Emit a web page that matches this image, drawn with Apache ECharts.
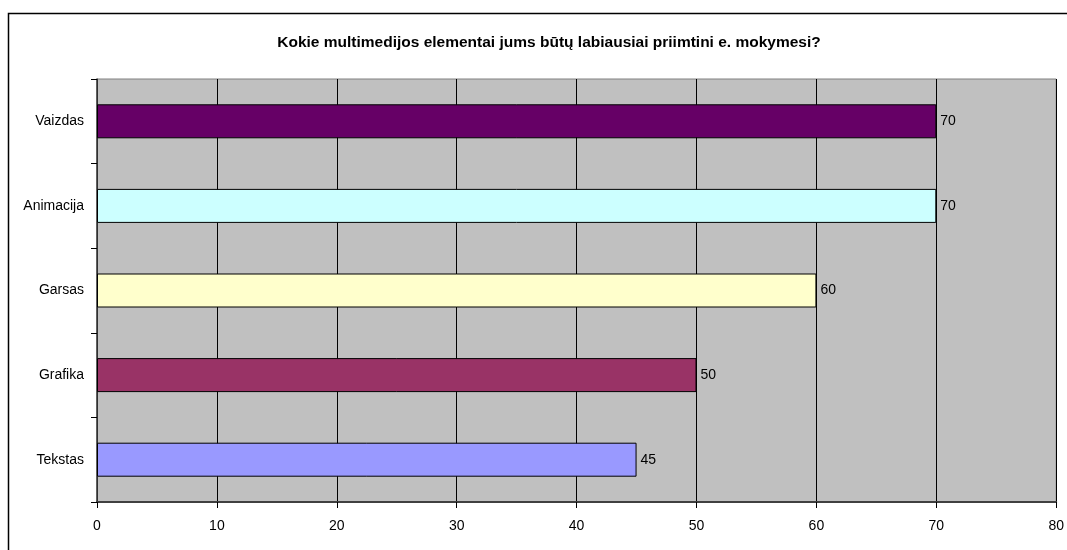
<!DOCTYPE html>
<html>
<head>
<meta charset="utf-8">
<script src="https://cdn.jsdelivr.net/npm/echarts@6/dist/echarts.min.js"></script>
<style>
  html, body { margin: 0; padding: 0; background: #fff; }
  #chart { width: 1067px; height: 550px; }
</style>
</head>
<body>
<div id="chart"></div>
<script>
// Duomenys
const categories = ["Vaizdas", "Animacija", "Garsas", "Grafika", "Tekstas"];
const values = [70, 70, 60, 50, 45];
const barColors = ["#660066", "#CCFFFF", "#FFFFCC", "#993366", "#9999FF"];
const xTicks = [0, 10, 20, 30, 40, 50, 60, 70, 80];

const chart = echarts.init(document.getElementById("chart"));

chart.setOption({
  animation: false,
  textStyle: { fontFamily: "Liberation Sans, Arial, sans-serif" },
  title: {
    text: "Kokie multimedijos elementai jums būtų labiausiai priimtini e. mokymesi?",
    left: 544,
    top: 30,
    textAlign: "center",
    textStyle: { fontSize: 15.5, fontWeight: "bold", color: "#000" },
  },
  graphic: [
    {
      type: "rect",
      shape: { x: 8.5, y: 13.5, width: 1100, height: 600 },
      style: { fill: "none", stroke: "#000", lineWidth: 1.5 },
      silent: true,
    },
  ],
  grid: {
    left: 97,
    right: 10,
    top: 79,
    bottom: 48,
    show: true,
    backgroundColor: "#C0C0C0",
    borderColor: "#808080",
    borderWidth: 1,
  },
  xAxis: {
    type: "value",
    min: xTicks[0],
    max: xTicks[xTicks.length - 1],
    interval: 10,
    axisLine: { show: true, lineStyle: { color: "#404040", width: 2 } },
    axisTick: { show: true, length: 6, lineStyle: { color: "#000" } },
    axisLabel: { color: "#000", fontSize: 14, margin: 17 },
    splitLine: { show: true, lineStyle: { color: "#000", width: 1 } },
  },
  yAxis: {
    type: "category",
    inverse: true,
    data: categories,
    axisLine: { show: true, lineStyle: { color: "#404040", width: 1.5 } },
    axisTick: { show: true, length: 6, lineStyle: { color: "#000" } },
    axisLabel: { color: "#000", fontSize: 14, margin: 13 },
  },
  series: [
    {
      type: "bar",
      barWidth: 34,
      data: values.map((v, i) => ({
        value: v,
        itemStyle: { color: barColors[i] },
      })),
      itemStyle: { borderColor: "#000", borderWidth: 1 },
      label: {
        show: true,
        position: "right",
        distance: 4,
        color: "#000",
        fontSize: 14,
      },
    },
  ],
});
</script>
</body>
</html>
